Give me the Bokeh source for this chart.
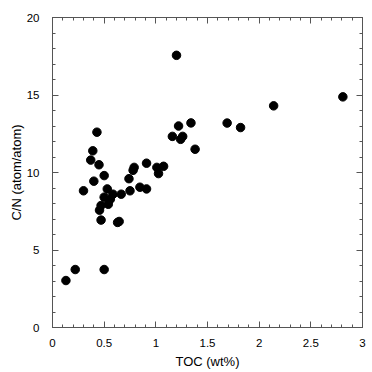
from bokeh.plotting import figure
from bokeh.models import LinearAxis, FixedTicker, Range1d
from bokeh.embed import file_html
from bokeh.resources import INLINE

toc = [0.13, 0.22, 0.50, 0.30, 0.43, 0.39, 0.37, 0.45, 0.40, 0.50,
       0.53, 0.50, 0.47, 0.455, 0.47, 0.54, 0.56, 0.585, 0.63, 0.645,
       0.665, 0.74, 0.75, 0.78, 0.79, 0.846, 0.91, 0.91, 1.01, 1.026,
       1.075, 1.16, 1.22, 1.24, 1.26, 1.34, 1.20, 2.81, 2.14, 1.69,
       1.82, 1.38]
cn = [3.03, 3.74, 3.74, 8.82, 12.6, 11.4, 10.8, 10.5, 9.44, 9.8,
      8.94, 8.41, 7.87, 7.57, 6.93, 7.95, 8.28, 8.6, 6.78, 6.84,
      8.6, 9.6, 8.82, 10.14, 10.33, 9.05, 8.94, 10.6, 10.33, 9.93,
      10.4, 12.33, 13.0, 12.14, 12.33, 13.2, 17.56, 14.88, 14.3, 13.19,
      12.9, 11.5]

x_ticks = [0, 0.5, 1, 1.5, 2, 2.5, 3]
x_labels = ["0", "0.5", "1", "1.5", "2", "2.5", "3"]
y_ticks = [0, 5, 10, 15, 20]
y_labels = ["0", "5", "10", "15", "20"]
x_minor = [i / 10 for i in range(31)]
y_minor = list(range(21))

FONT = "Liberation Sans"
AX = "#555555"

p = figure(width=370, height=371, output_backend="svg",
           toolbar_location=None, x_range=Range1d(0, 3), y_range=Range1d(0, 20),
           min_border_left=52, min_border_right=8, min_border_top=17,
           min_border_bottom=43, x_axis_location=None, y_axis_location=None)
p.outline_line_color = None
p.grid.visible = False
p.background_fill_color = "white"


def make_axis(ticks, labels, minor, show_labels, label="", standoff=6, label_standoff=4):
    ax = LinearAxis(ticker=FixedTicker(ticks=ticks, minor_ticks=minor))
    ax.axis_line_color = AX
    ax.major_tick_line_color = AX
    ax.minor_tick_line_color = AX
    ax.major_tick_in = 6
    ax.major_tick_out = 0
    ax.minor_tick_in = 3
    ax.minor_tick_out = 0
    ax.major_label_text_font = FONT
    ax.major_label_text_color = "black"
    ax.major_label_text_font_size = "11.5px"
    if show_labels:
        ax.major_label_overrides = {t: l for t, l in zip(ticks, labels)}
        ax.major_label_standoff = standoff
        ax.axis_label = label
        ax.axis_label_text_font = FONT
        ax.axis_label_text_font_size = "13px"
        ax.axis_label_text_font_style = "normal"
        ax.axis_label_text_color = "black"
        ax.axis_label_standoff = label_standoff
    else:
        ax.major_label_overrides = {t: "" for t in ticks}
        ax.major_label_standoff = 0
    return ax


p.add_layout(make_axis(x_ticks, x_labels, x_minor, True, "TOC (wt%)", 11, 4), "below")
p.add_layout(make_axis(y_ticks, y_labels, y_minor, True, "C/N (atom/atom)", 13, 0), "left")
p.add_layout(make_axis(x_ticks, x_labels, x_minor, False), "above")
p.add_layout(make_axis(y_ticks, y_labels, y_minor, False), "right")

p.scatter(toc, cn, size=8.5, color="black", line_color="black")

open("out.html", "w").write(file_html(p, INLINE))
